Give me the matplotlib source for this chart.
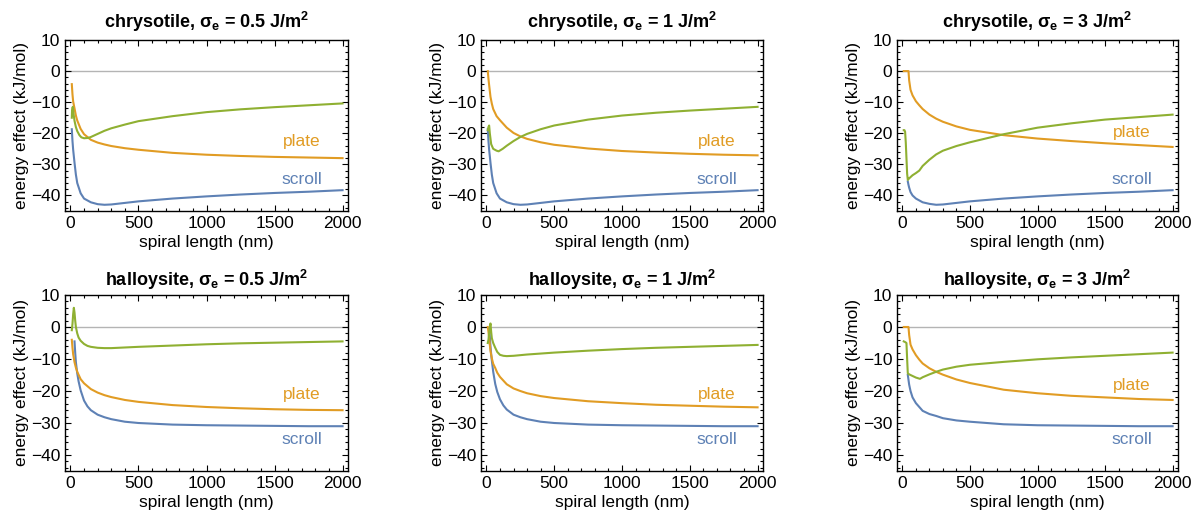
import matplotlib
matplotlib.use("Agg")
import matplotlib.pyplot as plt
from matplotlib.ticker import MultipleLocator

plt.rcParams['font.family'] = ['Liberation Sans', 'DejaVu Sans']
plt.rcParams['mathtext.fontset'] = 'custom'
plt.rcParams['mathtext.rm'] = 'Liberation Sans'
plt.rcParams['mathtext.bf'] = 'Liberation Sans:bold'
plt.rcParams['mathtext.it'] = 'Liberation Sans:italic'

# ---------------- data ----------------
minerals = ["chrysotile", "halloysite"]
sigma_labels = ["0.5", "1", "3"]

# chrysotile, sigma = 0.5
c05_scroll_x = [10, 15, 20, 30, 40, 50, 75, 100, 150, 200, 250, 300, 400, 500, 750, 1000, 1250, 1500, 1750, 2000]
c05_scroll_y = [-18.7, -22.5, -25.3, -29.5, -33.3, -36, -39.3, -41, -42.2, -42.8, -43, -42.9, -42.4, -41.9, -41, -40.3, -39.7, -39.2, -38.8, -38.3]
c05_plate_x = [10, 15, 20, 30, 40, 50, 75, 100, 150, 200, 250, 300, 400, 500, 750, 1000, 1250, 1500, 1750, 2000]
c05_plate_y = [-4.2, -7.5, -9.8, -12, -14.3, -15.9, -18.6, -20.3, -22.1, -23, -23.6, -24.1, -24.8, -25.3, -26.3, -26.9, -27.3, -27.6, -27.8, -28]
c05_green_x = [10, 12, 17, 22, 30, 40, 50, 66, 80, 100, 130, 150, 200, 250, 300, 400, 500, 750, 1000, 1250, 1500, 1750, 2000]
c05_green_y = [-15, -12.5, -11.5, -13.5, -16, -18, -19.3, -20.6, -21.3, -21.6, -21.5, -21.2, -20.2, -19.2, -18.4, -17.2, -16.1, -14.5, -13.2, -12.3, -11.6, -11, -10.4]

# chrysotile, sigma = 1
c1_scroll_x = [10, 15, 20, 30, 40, 50, 75, 100, 150, 200, 250, 300, 400, 500, 750, 1000, 1250, 1500, 1750, 2000]
c1_scroll_y = [-18.7, -22.5, -25.3, -29.5, -33.3, -36, -39.3, -41, -42.2, -42.8, -43, -42.9, -42.4, -41.9, -41, -40.3, -39.7, -39.2, -38.8, -38.3]
c1_plate_x = [10, 15, 20, 30, 40, 50, 75, 100, 150, 200, 250, 300, 400, 500, 750, 1000, 1250, 1500, 1750, 2000]
c1_plate_y = [0, -2.5, -4.5, -8.3, -10.5, -12.2, -14.5, -15.8, -18.2, -19.9, -21, -21.8, -22.9, -23.7, -24.9, -25.7, -26.2, -26.6, -26.9, -27.1]
c1_green_x = [10, 15, 20, 25, 35, 50, 75, 90, 120, 150, 200, 250, 300, 400, 500, 750, 1000, 1250, 1500, 1750, 2000]
c1_green_y = [-19, -18, -17.5, -20, -23.5, -25, -25.6, -25.8, -25, -24, -22.5, -21.2, -20.2, -18.7, -17.5, -15.6, -14.3, -13.4, -12.7, -12.1, -11.5]

# chrysotile, sigma = 3
c3_scroll_x = [40, 45, 50, 60, 75, 100, 150, 200, 250, 300, 400, 500, 750, 1000, 1250, 1500, 1750, 2000]
c3_scroll_y = [-35.5, -36.6, -37.5, -38.9, -40, -41, -42.2, -42.7, -43, -42.9, -42.4, -41.9, -41, -40.3, -39.7, -39.2, -38.8, -38.3]
c3_plate_x = [10, 20, 30, 45, 50, 60, 75, 100, 125, 150, 200, 250, 300, 400, 500, 750, 1000, 1250, 1500, 1750, 2000]
c3_plate_y = [0, 0, 0, 0, -3, -6, -7.8, -9.7, -11, -12.2, -14, -15.3, -16.3, -17.8, -18.9, -20.6, -21.7, -22.5, -23.2, -23.8, -24.4]
c3_green_x = [10, 15, 20, 25, 30, 35, 40, 50, 75, 100, 125, 150, 200, 250, 300, 400, 500, 750, 1000, 1250, 1500, 1750, 2000]
c3_green_y = [-19, -19, -19.5, -23, -28, -33, -35, -34.5, -33.5, -32.8, -32, -30.5, -28.5, -26.8, -25.6, -24.1, -22.9, -20.3, -18.2, -16.8, -15.6, -14.8, -14]

# halloysite, sigma = 0.5
h05_scroll_x = [30, 35, 40, 50, 60, 75, 100, 125, 150, 200, 250, 300, 400, 500, 750, 1000, 1250, 1500, 1750, 2000]
h05_scroll_y = [-4.5, -8, -11, -14.5, -17, -19.8, -23, -24.8, -26, -27.4, -28.2, -28.8, -29.6, -30, -30.5, -30.7, -30.8, -30.9, -31, -31]
h05_plate_x = [10, 15, 20, 30, 40, 50, 75, 100, 150, 200, 250, 300, 400, 500, 750, 1000, 1250, 1500, 1750, 2000]
h05_plate_y = [-4, -6.5, -8.5, -11, -12.7, -14, -16.3, -17.6, -19.4, -20.5, -21.3, -21.9, -22.8, -23.4, -24.4, -25, -25.4, -25.7, -25.9, -26]
h05_green_x = [10, 15, 20, 25, 30, 35, 40, 50, 60, 75, 100, 125, 150, 200, 250, 300, 400, 500, 750, 1000, 1250, 1500, 1750, 2000]
h05_green_y = [-1, 1, 4, 6, 4.5, 2, 0, -2, -3.3, -4.3, -5.3, -5.9, -6.2, -6.5, -6.6, -6.6, -6.4, -6.2, -5.8, -5.4, -5.1, -4.9, -4.7, -4.5]

# halloysite, sigma = 1
h1_scroll_x = [22, 25, 30, 35, 40, 50, 65, 80, 100, 125, 150, 200, 250, 300, 400, 500, 750, 1000, 1250, 1500, 1750, 2000]
h1_scroll_y = [-1, -3, -6, -8.5, -10.5, -14, -17.8, -20.3, -22.6, -24.5, -25.8, -27.4, -28.2, -28.8, -29.6, -30, -30.5, -30.7, -30.8, -30.9, -31, -31]
h1_plate_x = [10, 15, 20, 30, 40, 50, 65, 80, 100, 150, 200, 250, 300, 400, 500, 750, 1000, 1250, 1500, 1750, 2000]
h1_plate_y = [0, -1.5, -3.5, -7.5, -9.8, -11.5, -12.8, -14.3, -15.6, -17.9, -19.2, -20, -20.7, -21.6, -22.2, -23.2, -23.8, -24.3, -24.6, -24.9, -25.1]
h1_green_x = [10, 15, 20, 25, 30, 35, 40, 50, 65, 80, 100, 125, 150, 200, 250, 300, 400, 500, 750, 1000, 1250, 1500, 1750, 2000]
h1_green_y = [-5, -4, -2, 0, 1.1, -1.5, -3.5, -5, -6.5, -7.8, -8.7, -9, -9.1, -9, -8.8, -8.6, -8.3, -8, -7.4, -6.9, -6.5, -6.2, -5.9, -5.6]

# halloysite, sigma = 3
h3_scroll_x = [40, 45, 50, 60, 75, 100, 125, 150, 200, 250, 300, 400, 500, 750, 1000, 1250, 1500, 1750, 2000]
h3_scroll_y = [-15, -16.5, -18, -20, -22, -23.8, -25, -26.2, -27.2, -27.8, -28.5, -29.2, -29.6, -30.4, -30.7, -30.8, -30.9, -31, -31]
h3_plate_x = [10, 20, 30, 45, 50, 60, 75, 100, 125, 150, 200, 250, 300, 400, 500, 750, 1000, 1250, 1500, 1750, 2000]
h3_plate_y = [0, 0, 0, 0, -2.5, -5.5, -7, -8.8, -10.2, -11.4, -12.9, -14, -14.9, -16.4, -17.5, -19.6, -20.7, -21.5, -22, -22.5, -22.8]
h3_green_x = [10, 20, 30, 35, 40, 50, 75, 100, 130, 150, 200, 250, 300, 400, 500, 750, 1000, 1250, 1500, 1750, 2000]
h3_green_y = [-4.5, -4.7, -5, -10, -14.5, -14.8, -15.3, -15.8, -16.2, -15.7, -14.8, -14, -13.3, -12.4, -11.8, -10.9, -10.1, -9.5, -9, -8.5, -8]

# label anchor values (data units)
plate_label_y = [[-22.7, -22.7, -19.9], [-21.2, -21.2, -18.2]]
scroll_label_y = [[-35, -35, -35], [-35.3, -35.3, -35.3]]
label_x = 1700

panels = [
    [(c05_scroll_x, c05_scroll_y, c05_plate_x, c05_plate_y, c05_green_x, c05_green_y),
     (c1_scroll_x, c1_scroll_y, c1_plate_x, c1_plate_y, c1_green_x, c1_green_y),
     (c3_scroll_x, c3_scroll_y, c3_plate_x, c3_plate_y, c3_green_x, c3_green_y)],
    [(h05_scroll_x, h05_scroll_y, h05_plate_x, h05_plate_y, h05_green_x, h05_green_y),
     (h1_scroll_x, h1_scroll_y, h1_plate_x, h1_plate_y, h1_green_x, h1_green_y),
     (h3_scroll_x, h3_scroll_y, h3_plate_x, h3_plate_y, h3_green_x, h3_green_y)],
]

# ---------------- style ----------------
C_SCROLL = "#5E81B5"
C_PLATE = "#E19C24"
C_GREEN = "#8FB032"

W, H = 1194, 520
fig = plt.figure(figsize=(W / 100, H / 100), dpi=100)

col_left = [65, 481, 897]
col_w = [283, 282, 281]
row_top = [40, 295]
row_bottom = [211, 471]
title_pad = [9, 6.5]

for r in range(2):
    for c in range(3):
        l = col_left[c] / W
        b = 1 - row_bottom[r] / H
        w = col_w[c] / W
        h = (row_bottom[r] - row_top[r]) / H
        ax = fig.add_axes([l, b, w, h])
        sx, sy, px, py, gx, gy = panels[r][c]
        ax.axhline(0, color="#b4b4b4", lw=1.0, zorder=1)
        ax.plot(sx, sy, color=C_SCROLL, lw=1.5, zorder=3, solid_joinstyle='round')
        ax.plot(px, py, color=C_PLATE, lw=1.5, zorder=3, solid_joinstyle='round')
        ax.plot(gx, gy, color=C_GREEN, lw=1.5, zorder=4, solid_joinstyle='round')
        ax.set_xlim(-40, 2040)
        ax.set_ylim(-45, 10)
        ax.xaxis.set_major_locator(MultipleLocator(500))
        ax.xaxis.set_minor_locator(MultipleLocator(100))
        ax.yaxis.set_major_locator(MultipleLocator(10))
        ax.yaxis.set_minor_locator(MultipleLocator(2))
        ax.tick_params(which="both", direction="in", top=True, right=True,
                       labelsize=12.5, width=0.8, color="black")
        ax.tick_params(which="major", length=4, pad=3.5)
        ax.tick_params(which="minor", length=2)
        for s in ax.spines.values():
            s.set_linewidth(1.0)
        ax.set_xlabel("spiral length (nm)", fontsize=12.5, labelpad=3)
        ax.set_ylabel("energy effect (kJ/mol)", fontsize=12.5, labelpad=1)
        title = minerals[r] + r", σ$_\mathbf{e}$ = " + sigma_labels[c] + r" J/m$^\mathbf{2}$"
        ax.set_title(title, fontsize=13, fontweight="bold", pad=title_pad[r])
        ax.text(label_x, plate_label_y[r][c], "plate", color=C_PLATE, fontsize=12.5,
                ha="center", va="center")
        ax.text(label_x, scroll_label_y[r][c], "scroll", color=C_SCROLL, fontsize=12.5,
                ha="center", va="center")

fig.savefig("out.png", dpi=100)
